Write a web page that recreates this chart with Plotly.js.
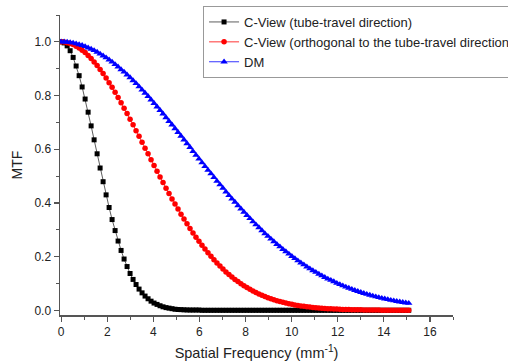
<!DOCTYPE html>
<html>
<head>
<meta charset="utf-8">
<script src="https://cdn.plot.ly/plotly-3.0.1.min.js"></script>
<style>html,body{margin:0;padding:0;background:#fff;}#chart{width:508px;height:363px;}</style>
</head>
<body>
<div id="chart"></div>
<script>
// Spatial frequency (mm^-1), sample points
const freq = [0,0.13,0.26,0.39,0.52,0.65,0.78,0.91,1.04,1.17,1.30,1.43,1.56,1.69,1.82,1.95,2.08,2.21,2.34,2.47,
2.60,2.73,2.86,2.99,3.12,3.25,3.38,3.51,3.64,3.77,3.90,4.03,4.16,4.29,4.42,4.55,4.68,4.81,4.94,5.07,
5.20,5.33,5.46,5.59,5.72,5.85,5.98,6.11,6.24,6.37,6.50,6.63,6.76,6.89,7.02,7.15,7.28,7.41,7.54,7.67,
7.80,7.93,8.06,8.19,8.32,8.45,8.58,8.71,8.84,8.97,9.10,9.23,9.36,9.49,9.62,9.75,9.88,10.01,10.14,10.27,
10.40,10.53,10.66,10.79,10.92,11.05,11.18,11.31,11.44,11.57,11.70,11.83,11.96,12.09,12.22,12.35,12.48,12.61,12.74,12.87,
13.00,13.13,13.26,13.39,13.52,13.65,13.78,13.91,14.04,14.17,14.30,14.43,14.56,14.69,14.82,14.95,15.08];

const cviewTube = [1.000,0.996,0.985,0.967,0.942,0.910,0.874,0.832,0.787,0.738,0.687,0.635,0.583,0.530,0.479,0.430,0.383,0.338,0.297,0.258,
0.223,0.191,0.163,0.137,0.115,0.096,0.079,0.065,0.053,0.043,0.034,0.027,0.022,0.017,0.013,0.010,0.008,0.006,0.004,0.003,
0.0025,0.0018,0.0013,0.001,0.001,0.001,0.001,0,0,0,0,0,0,0,0,0,0,0,0,0,
0,0,0,0,0,0,0,0,0,0,0,0,0,0,0,0,0,0,0,0,
0,0,0,0,0,0,0,0,0,0,0,0,0,0,0,0,0,0,0,0,
0,0,0,0,0,0,0,0,0,0,0,0,0,0,0,0,0];

const cviewOrtho = [1.000,0.999,0.997,0.994,0.990,0.984,0.977,0.969,0.960,0.949,0.938,0.925,0.912,0.897,0.882,0.865,0.848,0.831,0.812,0.793,
0.773,0.753,0.733,0.712,0.691,0.669,0.648,0.626,0.604,0.583,0.561,0.539,0.518,0.497,0.476,0.455,0.435,0.415,0.396,0.377,
0.358,0.340,0.322,0.305,0.288,0.272,0.257,0.242,0.228,0.214,0.201,0.188,0.176,0.165,0.154,0.143,0.133,0.124,0.115,0.107,
0.0991,0.0917,0.0847,0.0782,0.0720,0.0663,0.0610,0.0560,0.0513,0.0470,0.0430,0.0393,0.0358,0.0326,0.0297,0.0270,0.0245,0.0222,0.0201,0.0182,
0.0164,0.0148,0.0133,0.0120,0.0108,0.0097,0.0087,0.0077,0.0069,0.0062,0.0055,0.0049,0.0044,0.0039,0.0034,0.0030,0.0027,0.0024,0.0021,0.0018,
0.0016,0.0014,0.0012,0.0011,0.0009,0.0008,0.0007,0.0006,0.0005,0.0005,0.0004,0.0004,0.0003,0.0003,0.0002,0.0002,0.0002];

const dm = [1.000,1.000,0.999,0.998,0.996,0.993,0.990,0.987,0.983,0.978,0.973,0.968,0.962,0.955,0.948,0.941,0.933,0.925,0.916,0.907,
0.897,0.888,0.877,0.867,0.856,0.845,0.833,0.821,0.809,0.797,0.784,0.771,0.758,0.745,0.732,0.718,0.704,0.691,0.677,0.663,
0.649,0.635,0.621,0.607,0.592,0.578,0.564,0.550,0.536,0.522,0.509,0.495,0.481,0.468,0.455,0.441,0.428,0.415,0.403,0.390,
0.378,0.366,0.354,0.342,0.330,0.319,0.308,0.297,0.286,0.276,0.266,0.256,0.246,0.237,0.227,0.219,0.210,0.201,0.193,0.185,
0.177,0.170,0.162,0.155,0.148,0.142,0.135,0.129,0.123,0.117,0.112,0.107,0.101,0.0964,0.0917,0.0871,0.0827,0.0785,0.0745,0.0706,
0.0669,0.0634,0.0600,0.0568,0.0537,0.0507,0.0479,0.0452,0.0427,0.0403,0.0379,0.0357,0.0336,0.0317,0.0298,0.0280,0.0263];

const seriesNames = ["C-View (tube-travel direction)", "C-View (orthogonal to the tube-travel direction)", "DM"];
const xTitle = "Spatial Frequency (mm<sup>-1</sup>)";
const yTitle = "MTF";

const font = "Liberation Sans, Arial, sans-serif";
const traces = [
  {x: freq, y: cviewTube, name: seriesNames[0], mode: "lines+markers",
   line: {color: "#333333", width: 0.8}, marker: {symbol: "square", size: 5, color: "#000000"}},
  {x: freq, y: cviewOrtho, name: seriesNames[1], mode: "lines+markers",
   line: {color: "#ff0000", width: 0.8}, marker: {symbol: "circle", size: 5.5, color: "#ff0000"}},
  {x: freq, y: dm, name: seriesNames[2], mode: "lines+markers",
   line: {color: "#0000ff", width: 0.8}, marker: {symbol: "triangle-up", size: 6.5, color: "#0000ff"}}
];

const axisCommon = {
  showgrid: false, zeroline: false, showline: true, linecolor: "#555555", linewidth: 1.5,
  ticks: "outside", ticklen: 5, tickwidth: 1.2, tickcolor: "#555555",
  tickfont: {family: font, size: 12, color: "#222222"}
};

const layout = {
  width: 508, height: 363,
  margin: {l: 60, r: 55, t: 15, b: 48, autoexpand: false},
  paper_bgcolor: "#ffffff", plot_bgcolor: "#ffffff",
  font: {family: font, color: "#222222"},
  showlegend: true,
  legend: {x: 0.364, y: 1.03, xanchor: "left", yanchor: "top",
    bgcolor: "#ffffff", bordercolor: "#999999", borderwidth: 1,
    font: {family: font, size: 13, color: "#222222"}, tracegroupgap: 0},
  xaxis: Object.assign({}, axisCommon, {
    range: [-0.05, 17], dtick: 2, tick0: 0,
    minor: {dtick: 1, ticks: "outside", ticklen: 3, tickcolor: "#555555", tickwidth: 1},
    title: {text: xTitle, font: {family: font, size: 14.5, color: "#222222"}, standoff: 10}
  }),
  yaxis: Object.assign({}, axisCommon, {
    range: [-0.0175, 1.1], dtick: 0.2, tick0: 0, tickformat: ".1f",
    minor: {dtick: 0.1, ticks: "outside", ticklen: 3, tickcolor: "#555555", tickwidth: 1},
    title: {text: yTitle, font: {family: font, size: 14, color: "#222222"}, standoff: 8}
  })
};

Plotly.newPlot("chart", traces, layout, {displayModeBar: false, staticPlot: true});
</script>
</body>
</html>
